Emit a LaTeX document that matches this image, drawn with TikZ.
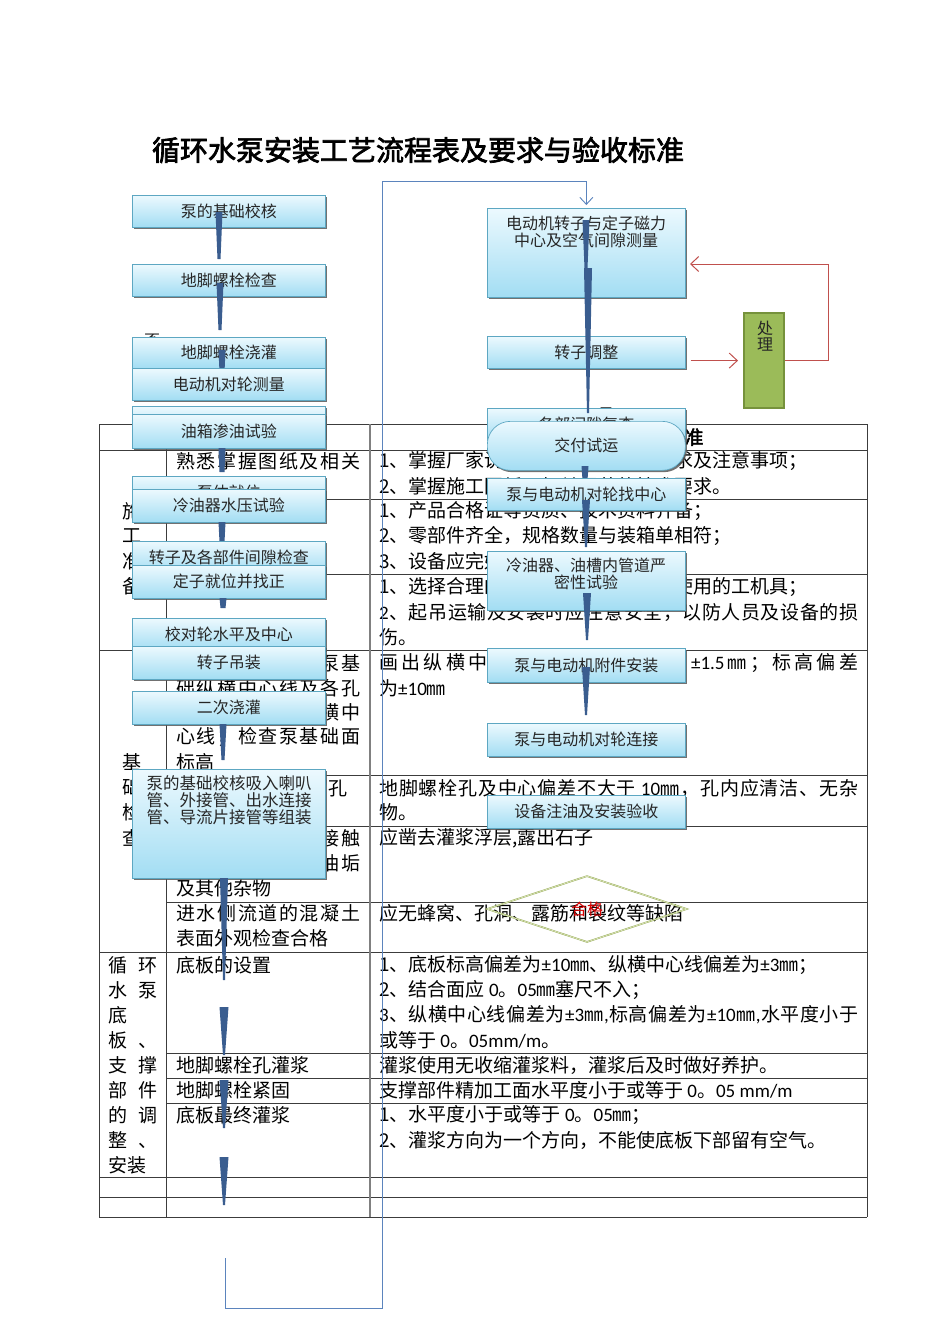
\documentclass[tikz,border=0pt]{standalone}
\usepackage{fontspec}
\setmainfont{Noto Sans CJK SC}[AutoFakeBold=2.5]
\newfontfamily\latinf{Carlito}
\usetikzlibrary{shadows,shapes.geometric,arrows.meta}
\definecolor{boxtop}{HTML}{ECF9FE}
\definecolor{boxbot}{HTML}{A2DDF3}
\definecolor{boxline}{HTML}{5DA7C2}
\definecolor{wedgecol}{HTML}{3A5D8F}
\definecolor{loopblue}{HTML}{5B84BD}
\definecolor{redarr}{HTML}{C0504D}
\definecolor{greenfill}{HTML}{9BBB59}
\definecolor{greenline}{HTML}{76923C}
\definecolor{tablecol}{HTML}{3C3C3C}
\definecolor{diamcol}{HTML}{9BAF5A}
\definecolor{diamlight}{HTML}{E4ECCB}
\newcommand\tabfont{\fontsize{19}{25}\selectfont}
\newcommand\flowfont{\fontsize{16}{17}\selectfont}
\newcommand\latn[1]{{\latinf #1}}
% justified single line: glue between every token
\def\spreadA#1{#1\spreadB}
\def\spreadB{\futurelet\spreadnext\spreadC}
\def\spreadC{\ifx\spreadnext\relax\expandafter\spreadgobble\else\expandafter\spreadD\fi}
\def\spreadD#1{\hfil#1\spreadB}
\def\spreadgobble#1{}
\newcommand\jline[2]{\hbox to #1{\spreadA#2\relax}}
\newcommand\flowwedge[5]{\fill[wedgecol] ({#1-#4/2},#2) -- ({#1+#4/2},#2) -- ({#1+#5/2},#3) -- ({#1-#5/2},#3) -- cycle;}
\tikzset{
  tcell/.style={anchor=west, inner sep=0pt, font=\tabfont},
  ccell/.style={inner sep=0pt, font=\tabfont},
  tline/.style={draw=tablecol, line width=0.9pt},
  flowbox/.style={draw=boxline, line width=0.7pt, top color=boxtop, bottom color=boxbot,
    drop shadow={shadow xshift=1.6pt, shadow yshift=-1.8pt, fill=black!65, opacity=0.85},
    anchor=north west, inner sep=0pt, font=\flowfont, text=black!85},
  boxlabel/.style={inner sep=0pt, font=\flowfont, align=center, text=black!85},
  loopline/.style={draw=loopblue, line width=0.9pt},
  redline/.style={draw=redarr, line width=1pt},
}
\begin{document}
\begin{tikzpicture}[x=1pt,y=-1pt]
\useasboundingbox (0,0) rectangle (950,1344);
\fill[white] (0,0) rectangle (950,1344);

% title
\node[font=\fontsize{28}{30}\selectfont\bfseries] (title) at (418,150) {循环水泵安装工艺流程表及要求与验收标准};

% ---------------- table ----------------
\foreach \yy in {424,450,650,952,1177,1197,1217} \draw[tline] (99,\yy) -- (867,\yy);
\foreach \yy in {499,574,775,826,902,1053,1078,1103} \draw[tline] (166,\yy) -- (867,\yy);
\foreach \xx in {99,166,867} \draw[tline] (\xx,424) -- (\xx,1217);
\draw[draw=gray, line width=1.1pt] (370,424) -- (370,1217);

% header
\node[ccell, font=\tabfont\bfseries] (h3) at (618,437) {质量要求及验收标准};

% column 1
\node[ccell] (g1a) at (132,511) {施};
\node[ccell] (g1b) at (132,536) {工};
\node[ccell] (g1c) at (132,561) {准};
\node[ccell] (g1d) at (132,586) {备};
\node[ccell] (g2a) at (132,762) {基};
\node[ccell] (g2b) at (132,787) {础};
\node[ccell] (g2c) at (132,812) {检};
\node[ccell] (g2d) at (132,838) {查};
\node[tcell] (g3a) at (108,965) {\makebox[49pt]{循\hfill 环}};
\node[tcell] (g3b) at (108,990) {\makebox[49pt]{水\hfill 泵}};
\node[tcell] (g3c) at (108,1015) {底};
\node[tcell] (g3d) at (108,1040) {\makebox[49pt]{板\hfill 、}};
\node[tcell] (g3e) at (108,1065) {\makebox[49pt]{支\hfill 撑}};
\node[tcell] (g3f) at (108,1090) {\makebox[49pt]{部\hfill 件}};
\node[tcell] (g3g) at (108,1115) {\makebox[49pt]{的\hfill 调}};
\node[tcell] (g3h) at (108,1140) {\makebox[49pt]{整\hfill 、}};
\node[tcell] (g3i) at (108,1165) {安装};

% column 2
\node[tcell] (b1) at (176,461) {\jline{184pt}{熟悉掌握图纸及相关}};
\node[tcell] (b2) at (176,663) {\jline{184pt}{按设计图纸复查泵基}};
\node[tcell] (b3) at (176,688) {\jline{184pt}{础纵横中心线及各孔}};
\node[tcell] (b4) at (176,712) {\jline{184pt}{位置，并划出纵横中}};
\node[tcell] (b5) at (176,737) {\jline{184pt}{心线；检查泵基础面}};
\node[tcell] (b6) at (176,762) {标高};
\node[tcell] (b7) at (176,788) {检查地脚螺栓预留孔};
\node[tcell] (b8) at (176,838) {\jline{184pt}{基础与二次灌浆接触}};
\node[tcell] (b9) at (176,863) {\jline{184pt}{表面应无油污、油垢}};
\node[tcell] (b10) at (176,888) {及其他杂物};
\node[tcell] (b11) at (176,913) {\jline{184pt}{进水侧流道的混凝土}};
\node[tcell] (b12) at (176,938) {表面外观检查合格};
\node[tcell] (b13) at (176,965) {底板的设置};
\node[tcell] (b14) at (176,1065) {地脚螺栓孔灌浆};
\node[tcell] (b15) at (176,1090) {地脚螺栓紧固};
\node[tcell] (b16) at (176,1115) {底板最终灌浆};

% column 3
\node[tcell] (c1) at (379,461) {1、掌握厂家说明书中的安装技术要求及注意事项；};
\node[tcell] (c2) at (379,486) {2、掌握施工图纸及相关规范的技术要求。};
\node[tcell] (c3) at (379,511) {1、产品合格证等资质、技术资料齐备；};
\node[tcell] (c4) at (379,536) {2、零部件齐全，规格数量与装箱单相符；};
\node[tcell] (c5) at (379,561) {3、设备应完好无损。};
\node[tcell] (c6) at (379,587) {1、选择合理的吊装方法及安全可靠使用的工机具；};
\node[tcell] (c7) at (379,612) {\jline{479pt}{{\latn{2}}、起吊运输及安装时应注意安全，以防人员及设备的损}};
\node[tcell] (c8) at (379,637) {伤。};
\node[tcell] (c9) at (379,663) {\jline{479pt}{画出纵横中心线，中心线偏差为{\latn{±1.5}}㎜；标高偏差}};
\node[tcell] (c10) at (379,688) {为\latn{±10}㎜};
\node[tcell] (c11) at (379,788) {\jline{479pt}{地脚螺栓孔及中心偏差不大于{\latn{ 10}}㎜，孔内应清洁、无杂}};
\node[tcell] (c12) at (379,812) {物。};
\node[tcell] (c13) at (379,838) {应凿去灌浆浮层,露出石子};
\node[tcell] (c14) at (379,913) {应无蜂窝、孔洞、露筋和裂纹等缺陷};
\node[tcell] (c15) at (379,965) {1、底板标高偏差为\latn{±10}㎜、纵横中心线偏差为\latn{±3}㎜；};
\node[tcell] (c16) at (379,990) {2、结合面应 \latn{0}。\latn{05}㎜塞尺不入；};
\node[tcell] (c17) at (379,1015) {\jline{479pt}{{\latn{3}}、纵横中心线偏差为{\latn{±3}}㎜{\latn{,}}标高偏差为{\latn{±10}}㎜{\latn{,}}水平度小于}};
\node[tcell] (c18) at (379,1040) {或等于 \latn{0}。\latn{05mm/m}。};
\node[tcell] (c19) at (379,1065) {灌浆使用无收缩灌浆料，灌浆后及时做好养护。};
\node[tcell] (c20) at (379,1090) {支撑部件精加工面水平度小于或等于 \latn{0}。\latn{05 mm/m}};
\node[tcell] (c21) at (379,1115) {1、水平度小于或等于 \latn{0}。\latn{05}㎜；};
\node[tcell] (c22) at (379,1140) {2、灌浆方向为一个方向，不能使底板下部留有空气。};

% ---------------- left column ----------------
\node[flowbox, minimum width=193pt, minimum height=32pt] (L1) at (132,195) {泵的基础校核};
\flowwedge{219}{212}{259}{7}{3}
\node[flowbox, minimum width=193pt, minimum height=32pt] (L2) at (132,264) {地脚螺栓检查};
\flowwedge{220}{283}{330}{7}{3}
\node[boxlabel] (no) at (152,341) {否};
\node[flowbox, minimum width=193pt, minimum height=31pt] (L3) at (132,337) {地脚螺栓浇灌};
\flowwedge{222}{350}{372}{7}{5}
\node[flowbox, minimum width=193pt, minimum height=32pt] (L4) at (132,368) {电动机对轮测量};
\node[flowbox, minimum width=193pt, minimum height=32pt] (L5) at (132,406) {};
\node[flowbox, minimum width=193pt, minimum height=34pt] (L6) at (132,414) {油箱渗油试验};
\flowwedge{222}{448}{472}{7}{5}
\node[flowbox, minimum width=193pt, minimum height=32pt] (L7) at (132,476) {泵体就位};
\node[flowbox, minimum width=193pt, minimum height=33pt] (L8) at (132,489) {冷油器水压试验};
\flowwedge{222}{522}{542}{7}{5}
\node[flowbox, minimum width=193pt, minimum height=32pt] (L9) at (132,541) {转子及各部件间隙检查};
\node[flowbox, minimum width=193pt, minimum height=33pt] (L10) at (132,565) {定子就位并找正};
\flowwedge{223}{598}{608}{7}{5}
\node[flowbox, minimum width=193pt, minimum height=32pt] (L11) at (132,618) {校对轮水平及中心};
\node[flowbox, minimum width=193pt, minimum height=33pt] (L12) at (132,646) {转子吊装};
\node[flowbox, minimum width=193pt, minimum height=33pt] (L13) at (132,691) {二次浇灌};
\flowwedge{223}{724}{760}{7}{3}
\node[flowbox, minimum width=193pt, minimum height=109pt] (L14) at (132,769) {};
\node[boxlabel, align=left, font=\fontsize{16.5}{17}\selectfont] (L14t) at (229,800) {泵的基础校核吸入喇叭\\管、外接管、出水连接\\管、导流片接管等组装};
\flowwedge{224}{878}{980}{8}{2}
\flowwedge{224}{1007}{1055}{9}{2}
\flowwedge{224}{1080}{1128}{9}{2}
\flowwedge{224}{1157}{1205}{9}{2}

% ---------------- right column ----------------
\node[flowbox, minimum width=198pt, minimum height=89pt] (R1) at (487,208) {};
\node[boxlabel] (R1t) at (586,232) {电动机转子与定子磁力\\中心及空气间隙测量};
\node[flowbox, minimum width=198pt, minimum height=32pt] (R2) at (487,336) {转子调整};
\node[boxlabel] (yes) at (606,415) {是};
\node[flowbox, minimum width=198pt, minimum height=32pt] (R3) at (487,408) {各部间隙复查};
\flowwedge{586}{220}{268}{7}{3}
\flowwedge{588}{268}{413}{8}{2}
\node[flowbox, rounded corners=23pt, minimum width=198pt, minimum height=49pt] (R4) at (487,421) {交付试运};
\flowwedge{585}{466}{480}{7}{5}
\node[flowbox, minimum width=198pt, minimum height=32pt] (R5) at (487,478) {泵与电动机对轮找中心};
\flowwedge{586}{500}{547}{8}{2}
\node[flowbox, minimum width=198pt, minimum height=59pt] (R6) at (487,551) {};
\node[boxlabel] (R6t) at (586,574) {冷油器、油槽内管道严\\密性试验};
\flowwedge{587}{593}{640}{8}{2}
\node[flowbox, minimum width=198pt, minimum height=34pt] (R7) at (487,648) {泵与电动机附件安装};
\flowwedge{586}{667}{715}{8}{2}
\node[flowbox, minimum width=198pt, minimum height=33pt] (R8) at (487,723) {泵与电动机对轮连接};
\node[flowbox, minimum width=198pt, minimum height=33pt] (R9) at (487,795) {设备注油及安装验收};
\node[diamond, aspect=3, draw=diamcol, double=diamlight, double distance=0.6pt, line width=0.5pt,
      minimum width=200pt, minimum height=66pt, inner sep=0pt, font=\flowfont, text=red!85!black] (D) at (587,909) {合格};

% ---------------- loop line ----------------
\coordinate (loopStart) at (225,1258);
\draw[loopline, -{Straight Barb[length=7pt,width=13pt]}] (loopStart) -- (225,1308) -- (382,1308) -- (382,181) -| ([yshift=3pt]R1.north);

% ---------------- 处理 loop ----------------
\node[draw=greenline, line width=2.2pt, fill=greenfill, minimum width=40pt, minimum height=95pt, anchor=north west, inner sep=0pt] (P) at (743,312) {};
\node[boxlabel, font=\fontsize{16}{16}\selectfont] (Pt) at (765,336) {处\\理};
\coordinate (aIn) at (690,264);
\draw[redline, -{Straight Barb[length=8pt,width=15pt]}] ([xshift=5pt]R2.east |- P.west) -- ([xshift=-5pt]P.west);
\draw[redline, -{Straight Barb[length=8pt,width=15pt]}] (P.east) -- ++(43,0) |- (aIn);
\end{tikzpicture}
\end{document}
